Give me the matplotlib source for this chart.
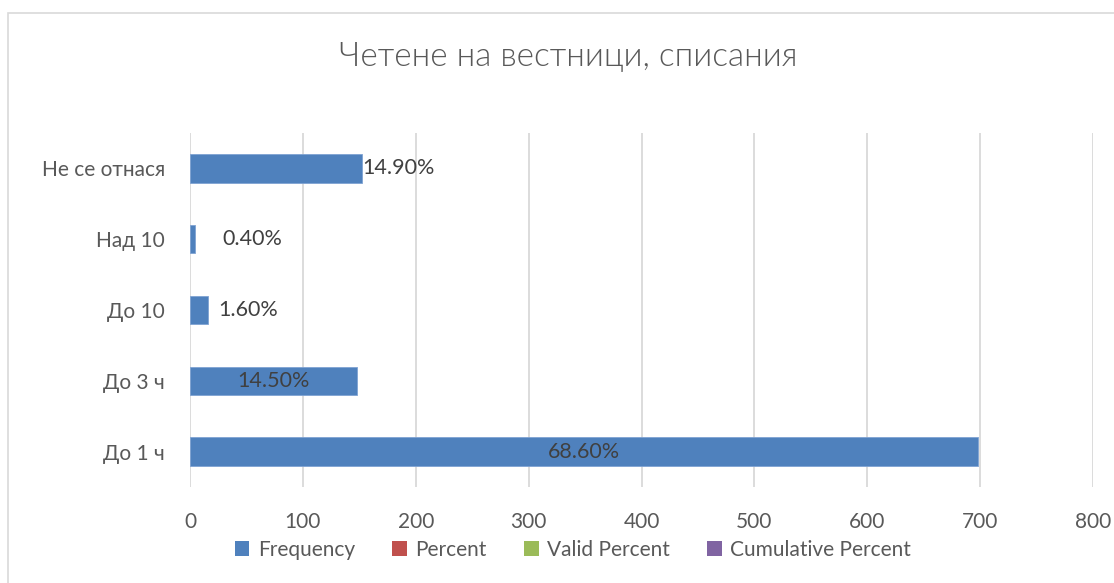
import matplotlib
matplotlib.use("Agg")
import matplotlib.pyplot as plt
from matplotlib.patches import Patch, Rectangle

# ---- data ----
categories = ["До 1 ч", "До 3 ч", "До 10", "Над 10", "Не се отнася"]
frequency = [698, 148, 16, 4, 152]
percent = [68.6, 14.5, 1.6, 0.4, 14.9]
series_names = ["Frequency", "Percent", "Valid Percent", "Cumulative Percent"]
series_colors = ["#4F81BD", "#C0504D", "#9BBB59", "#8064A2"]
x_ticks = [0, 100, 200, 300, 400, 500, 600, 700, 800]
title = "Четене на вестници, списания"

# label placement style: 'in' = centred inside bar, number = outside offset in px
label_style = ["in", "in", 10, 28, 1]

plt.rcParams['font.family'] = ['Lato', 'DejaVu Sans']
txt = "#595959"
fs = 15

fig = plt.figure(figsize=(11.14, 5.83), dpi=100)
# chart border
fig.patches.append(Rectangle((8/1114, -0.1), 1.2, 1 - 13/583 + 0.1, transform=fig.transFigure,
                             fill=False, edgecolor="#D9D9D9", linewidth=1.2))

ax = fig.add_axes([190/1114, 1 - 487/583, 903/1114, 354/583])
y = list(range(len(categories)))
bars = ax.barh(y, frequency, height=0.4, color=series_colors[0], edgecolor="#7FA3D3",
               linewidth=0.6, zorder=3)
ax.set_xlim(0, 800)
ax.set_ylim(-0.5, len(categories) - 0.5)
ax.set_xticks(x_ticks)
ax.set_yticks(y)
ax.set_yticklabels(categories)
ax.grid(axis="x", color="#D9D9D9", linewidth=1.3, zorder=0)
for s in ax.spines.values():
    s.set_visible(False)
ax.tick_params(axis="both", length=0, labelsize=fs, colors=txt)
ax.tick_params(axis="y", pad=18)
ax.tick_params(axis="x", pad=18)

for yi, v, p, st in zip(y, frequency, percent, label_style):
    lab = f"{p:.2f}%"
    if st == "in":
        ax.text(v / 2, yi, lab, ha="center", va="center", fontsize=15.5, color="#404040", zorder=4)
    else:
        ax.annotate(lab, (v, yi), xytext=(st * 0.72, 0), textcoords="offset points",
                    ha="left", va="center", fontsize=15.5, color="#404040", zorder=4)

handles = [Patch(facecolor=c, edgecolor="none") for c in series_colors]
fig.legend(handles, series_names, loc="center", bbox_to_anchor=(573/1114, 1 - 550/583),
           ncol=4, frameon=False, fontsize=fs, labelcolor=txt, handlelength=0.7,
           handleheight=0.7, handletextpad=0.4, columnspacing=1.8)

fig.text(568/1114, 1 - 57/583, title, ha="center", va="center", fontsize=24,
         color=txt, fontweight=300)

fig.savefig("out.png", dpi=100)
